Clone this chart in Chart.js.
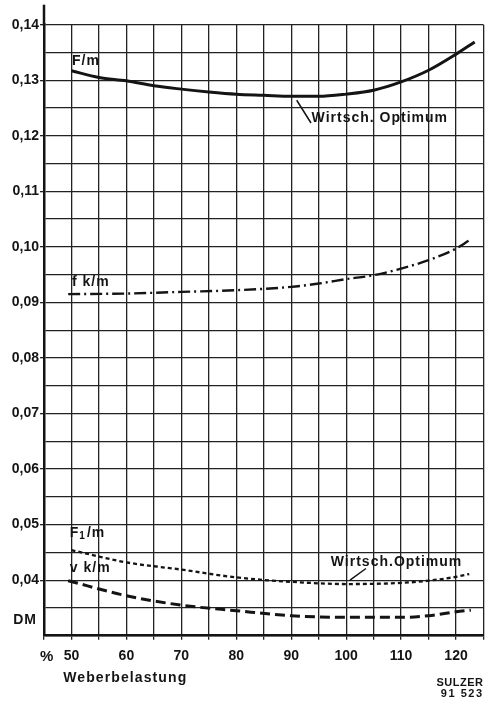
<!DOCTYPE html>
<html>
<head>
<meta charset="utf-8">
<script src="https://cdn.jsdelivr.net/npm/chart.js@4.4.1/dist/chart.umd.min.js"></script>
<style>
  html, body { margin: 0; padding: 0; background: #fff; }
  #wrap { width: 487px; height: 702px; }
</style>
</head>
<body>
<div id="wrap"><canvas id="c" width="487" height="702"></canvas></div>
<script>
// ---- data ----
const loadFm  = [50, 55, 60, 65, 70, 75, 80, 85, 90, 95, 100, 105, 110, 115, 120, 123.4];
const costFm  = [0.1317, 0.1305, 0.1299, 0.1290, 0.1284, 0.1279, 0.1275, 0.1273, 0.1271, 0.1271, 0.1275, 0.1282, 0.1297, 0.1318, 0.1347, 0.1369];

const loadFk  = [49.4, 60, 70, 80, 90, 95, 100, 105, 110, 115, 120, 122.3];
const costFk  = [0.0915, 0.0916, 0.0919, 0.0922, 0.0928, 0.0934, 0.0942, 0.0949, 0.0961, 0.0976, 0.0997, 0.1011];

const loadF1  = [50, 60, 70, 80, 90, 100, 110, 115, 120, 122.4];
const costF1  = [0.0454, 0.0432, 0.0419, 0.0405, 0.0397, 0.0393, 0.0395, 0.0399, 0.0406, 0.0411];

const loadVk  = [49.4, 60, 70, 80, 90, 100, 110, 115, 120, 122.7];
const costVk  = [0.0399, 0.0372, 0.0355, 0.0345, 0.0336, 0.0333, 0.0333, 0.0336, 0.0343, 0.0346];

const xTickValues = [50, 60, 70, 80, 90, 100, 110, 120];
const xTickLabels = ['50', '60', '70', '80', '90', '100', '110', '120'];
const yTickValues = [0.04, 0.05, 0.06, 0.07, 0.08, 0.09, 0.10, 0.11, 0.12, 0.13, 0.14];
const yTickLabels = ['0,04', '0,05', '0,06', '0,07', '0,08', '0,09', '0,10', '0,11', '0,12', '0,13', '0,14'];

const seriesNames = ['F/m', 'f k/m', 'F1/m', 'v k/m'];
const optimumLabel = 'Wirtsch. Optimum';
const optimumLabel2 = 'Wirtsch.Optimum';
const xTitle = 'Weberbelastung';
const unitLabel = 'DM';
const percentLabel = '%';
const stampLines = ['SULZER', '91 523'];

// ---- helpers ----
const toPts = (xs, ys) => xs.map((x, i) => ({ x: x, y: ys[i] }));
const INK = '#141414';
const FONT = '"Liberation Sans", Arial, sans-serif';

function lookup(values, labels, v) {
  for (let i = 0; i < values.length; i++) {
    if (Math.abs(values[i] - v) < 1e-6) return labels[i];
  }
  return '';
}

const annotate = {
  id: 'annotate',
  afterDraw(chart) {
    const ctx = chart.ctx;
    const xs = chart.scales.x, ys = chart.scales.y;
    const ca = chart.chartArea;
    const X = v => xs.getPixelForValue(v);
    const Y = v => ys.getPixelForValue(v);
    ctx.save();
    ctx.fillStyle = INK;
    ctx.strokeStyle = INK;

    // y-axis extends above the grid
    ctx.lineWidth = 2.5;
    ctx.beginPath();
    ctx.moveTo(ca.left, ca.top + 1);
    ctx.lineTo(ca.left, ca.top - 20);
    ctx.stroke();

    ctx.textBaseline = 'middle';
    ctx.textAlign = 'left';
    ctx.font = 'bold 14px ' + FONT;
    ctx.letterSpacing = '1px';

    // series labels
    ctx.fillText(seriesNames[0], X(50.1), Y(0.1335));
    ctx.fillText(seriesNames[1], X(50.1), Y(0.0937));
    // F1/m with subscript
    {
      const x0 = X(49.7), y0 = Y(0.0485);
      ctx.fillText('F', x0, y0);
      let w = ctx.measureText('F').width;
      ctx.font = 'bold 10px ' + FONT;
      ctx.fillText('1', x0 + w, y0 + 3);
      let w2 = ctx.measureText('1').width;
      ctx.font = 'bold 14px ' + FONT;
      ctx.fillText('/m', x0 + w + w2 + 1, y0);
    }
    ctx.fillText(seriesNames[3], X(49.7), Y(0.0422));

    // optimum annotations
    ctx.fillText(optimumLabel, X(93.7), Y(0.1231));
    ctx.fillText(optimumLabel2, X(97.2), Y(0.0433));
    ctx.lineWidth = 1.5;
    ctx.beginPath();
    ctx.moveTo(X(91.0), Y(0.1264));
    ctx.lineTo(X(93.6), Y(0.1223));
    ctx.moveTo(X(103.6), Y(0.0421));
    ctx.lineTo(X(100.7), Y(0.0400));
    ctx.stroke();

    // DM unit label
    ctx.textAlign = 'right';
    ctx.letterSpacing = '1px';
    ctx.fillText(unitLabel, ca.left - 7, Y(0.0328));

    // % and axis title
    const tickY = ca.bottom + 21;
    ctx.textAlign = 'center';
    ctx.font = 'bold 15px ' + FONT;
    ctx.letterSpacing = '0px';
    ctx.fillText(percentLabel, X(45.5), tickY);
    ctx.textAlign = 'left';
    ctx.font = 'bold 14px ' + FONT;
    ctx.letterSpacing = '1.1px';
    ctx.fillText(xTitle, X(48.5), ca.bottom + 42);

    // stamp
    ctx.textAlign = 'right';
    ctx.font = 'bold 11px ' + FONT;
    ctx.letterSpacing = '0.5px';
    ctx.fillText(stampLines[0], ca.right, ca.bottom + 47);
    ctx.letterSpacing = '1.5px';
    ctx.fillText(stampLines[1], ca.right, ca.bottom + 58);

    ctx.restore();
  }
};

const tickFont = { family: FONT, size: 14, weight: 'bold' };

new Chart(document.getElementById('c'), {
  type: 'line',
  data: {
    datasets: [
      { label: seriesNames[0], data: toPts(loadFm, costFm), borderColor: INK, borderWidth: 3, borderDash: [] },
      { label: seriesNames[1], data: toPts(loadFk, costFk), borderColor: INK, borderWidth: 2.4, borderDash: [12, 4, 2, 4] },
      { label: seriesNames[2], data: toPts(loadF1, costF1), borderColor: INK, borderWidth: 2.3, borderDash: [4, 3] },
      { label: seriesNames[3], data: toPts(loadVk, costVk), borderColor: INK, borderWidth: 3, borderDash: [10, 5] }
    ]
  },
  options: {
    responsive: false,
    animation: false,
    devicePixelRatio: 1,
    layout: { padding: { top: 24.7, right: 3.5, bottom: 0, left: 0 } },
    elements: {
      point: { radius: 0 },
      line: { tension: 0.4, cubicInterpolationMode: 'monotone', fill: false, borderCapStyle: 'butt' }
    },
    plugins: { legend: { display: false }, tooltip: { enabled: false }, title: { display: false } },
    scales: {
      x: {
        type: 'linear',
        min: 45, max: 125,
        afterFit(scale) { scale.height = 66.3; scale.paddingLeft = 0; scale.paddingRight = 0; },
        ticks: {
          stepSize: 5,
          autoSkip: false,
          maxRotation: 0,
          padding: 8,
          color: INK,
          font: tickFont,
          callback: v => lookup(xTickValues, xTickLabels, v)
        },
        grid: { color: '#222', lineWidth: 1.3, tickLength: 4, tickColor: '#222' },
        border: { display: true, color: INK, width: 2.5 }
      },
      y: {
        type: 'linear',
        min: 0.03, max: 0.14,
        afterFit(scale) { scale.width = 44; scale.paddingTop = 0; scale.paddingBottom = 0; },
        ticks: {
          stepSize: 0.005,
          autoSkip: false,
          padding: 1,
          color: INK,
          font: tickFont,
          callback: v => lookup(yTickValues, yTickLabels, v)
        },
        grid: {
          color: '#222', lineWidth: 1.3, tickLength: 4,
          tickColor: c => (c.tick && c.tick.label) ? '#222' : 'rgba(0,0,0,0)'
        },
        border: { display: true, color: INK, width: 2.5 }
      }
    }
  },
  plugins: [annotate]
});
</script>
</body>
</html>
